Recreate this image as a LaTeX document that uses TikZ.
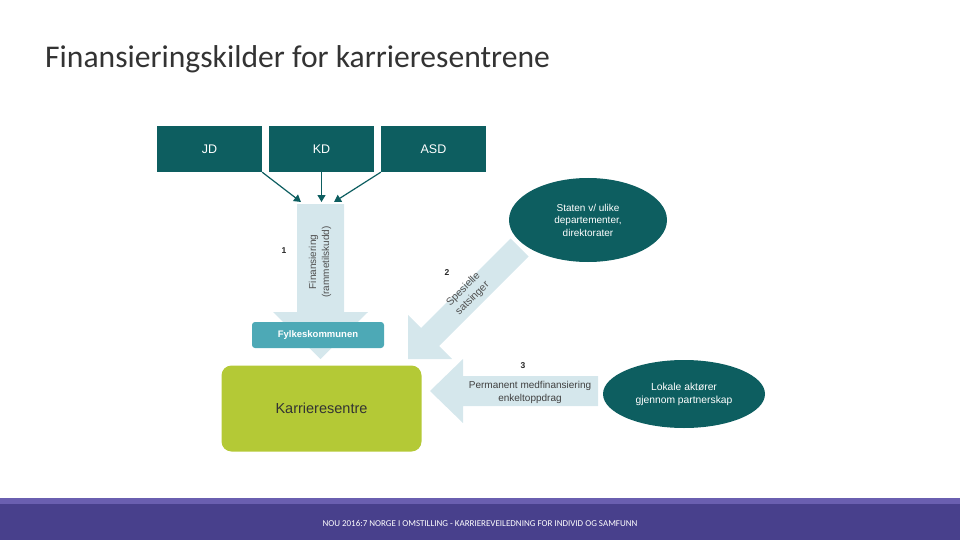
\documentclass[tikz,border=0pt]{standalone}
\usepackage{fontspec}
\setmainfont{Liberation Sans}
\newfontfamily\titlefont{Carlito}
\usetikzlibrary{shapes.geometric,arrows.meta}
\definecolor{dteal}{HTML}{0D5E60}
\definecolor{lblue}{HTML}{D5E7EC}
\definecolor{fylke}{HTML}{4DA9B6}
\definecolor{kgreen}{HTML}{B4C936}
\definecolor{footlight}{HTML}{6A5FB0}
\definecolor{footdark}{HTML}{48408C}
\definecolor{txtgray}{HTML}{505050}
\tikzset{
  dbox/.style={fill=dteal, text=white, minimum width=105pt, minimum height=46pt, inner sep=0pt, font=\fontsize{12.5}{14}\selectfont},
  oval/.style={ellipse, fill=dteal, text=white, align=center, inner sep=0pt, font=\fontsize{10}{12.5}\selectfont},
  bigarrow/.style={fill=lblue},
  smallarrow/.style={draw=dteal, line width=1.2pt, -{Triangle[length=7pt,width=8pt]}},
  lbl/.style={text=txtgray, align=center, inner sep=0pt, font=\fontsize{10}{13}\selectfont},
  num/.style={text=black!85, inner sep=0pt, font=\bfseries\fontsize{8.5}{10}\selectfont}
}
\begin{document}
\begin{tikzpicture}[x=1pt,y=-1pt]
\useasboundingbox (0,0) rectangle (960,540);
% footer
\fill[footlight] (0,498) rectangle (960,504);
\fill[footdark] (0,504) rectangle (960,540);
\node[text=white, inner sep=0pt, font=\titlefont\fontsize{9}{10}\selectfont] (foot) at (480,523) {NOU 2016:7 NORGE I OMSTILLING - KARRIEREVEILEDNING FOR INDIVID OG SAMFUNN};
% title
\node[anchor=base west, inner sep=0pt, text=black!80, font=\titlefont\fontsize{31.6}{36}\selectfont] (title) at (45,68) {Finansieringskilder for karrieresentrene};
% top boxes
\node[dbox] (jd) at (209.5,149) {JD};
\node[dbox] (kd) at (321.5,149) {KD};
\node[dbox] (asd) at (433.5,149) {ASD};
% big arrows
\fill[bigarrow] (297,204) -- (344,204) -- (344,312) -- (368,312) -- (320.5,359) -- (273,312) -- (297,312) -- cycle;
\fill[bigarrow] (510.5,238.5) -- (421,328) -- (408,315) -- (408,359) -- (452,359) -- (439,346) -- (528.5,256.5) -- cycle;
\fill[bigarrow] (598,376) -- (463,376) -- (463,359) -- (430,391) -- (463,423) -- (463,406) -- (598,406) -- cycle;
% arrow targets
\coordinate (in1) at (301,202);
\coordinate (in2) at (321.5,202);
\coordinate (in3) at (334,202);
\draw[smallarrow] (jd.south east) -- (in1);
\draw[smallarrow] (kd.south) -- (in2);
\draw[smallarrow] (asd.south west) -- (in3);
% boxes
\node[fill=fylke, text=white, rounded corners=3pt, minimum width=132pt, minimum height=26pt, inner sep=0pt, font=\bfseries\fontsize{9.5}{11}\selectfont] (fylke) at (318,335) {Fylkeskommunen};
\node[fill=kgreen, text=black!80, rounded corners=10pt, minimum width=200pt, minimum height=86pt, inner sep=0pt, font=\fontsize{14.5}{16}\selectfont] (karr) at (321.5,408.5) {Karrieresentre};
% ellipses
\node[oval, minimum width=158pt, minimum height=84pt] (staten) at (588,220) {Staten v/ ulike\\departementer,\\direktorater};
\node[oval, minimum width=162pt, minimum height=68pt, font=\fontsize{10.3}{13}\selectfont] (lokale) at (684,394) {Lokale aktører\\gjennom partnerskap};
% labels
\node[lbl, rotate=90] (fin) at (320,262) {Finansiering\\(rammetilskudd)};
\node[lbl, rotate=45, font=\fontsize{10.5}{13}\selectfont] (spes) at (468,294) {Spesielle\\satsinger};
\node[lbl, text=black!75] (perm) at (530,392) {Permanent medfinansiering\\enkeltoppdrag};
\node[num] (n1) at (284,251) {1};
\node[num] (n2) at (447,273) {2};
\node[num] (n3) at (523,366) {3};
\end{tikzpicture}
\end{document}
